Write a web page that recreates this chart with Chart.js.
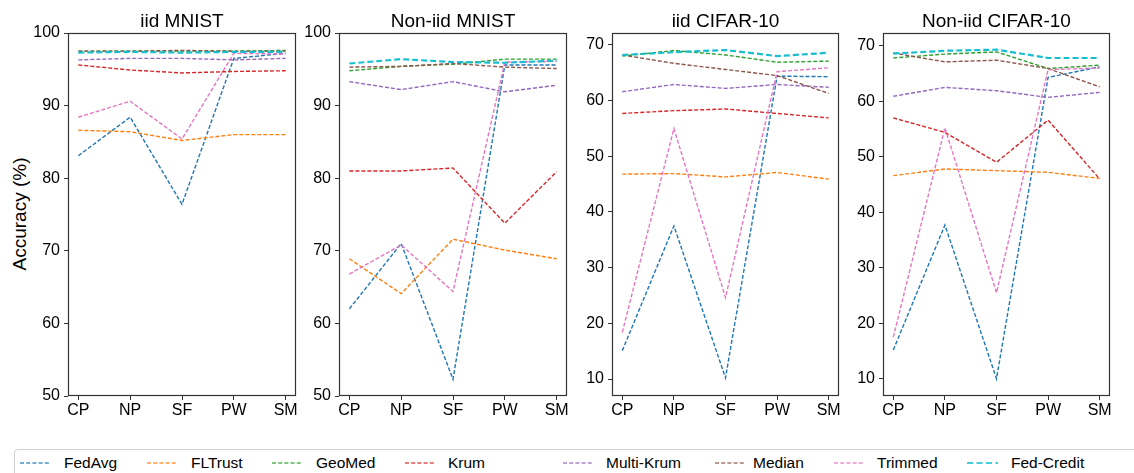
<!DOCTYPE html>
<html><head><meta charset="utf-8">
<script src="https://cdn.jsdelivr.net/npm/chart.js@4/dist/chart.umd.min.js"></script>
<style>
body{margin:0;background:#fff;width:1134px;height:473px;overflow:hidden;position:relative;font-family:"Liberation Sans",Arial,sans-serif;color:#000}
canvas{position:absolute;top:0}
.title{position:absolute;top:10px;font-size:19px;transform:translateX(-50%);white-space:nowrap}
.ylab{position:absolute;left:20px;top:214px;font-size:19px;white-space:nowrap;transform:translate(-50%,-50%) rotate(-90deg)}
.legend{position:absolute;left:14px;top:449px;width:1140px;height:40px;border:1px solid #d0d0d0;border-radius:4px;box-sizing:border-box}
.lg{position:absolute;font-size:15.5px;top:454px;line-height:18px;white-space:nowrap}
.ll{position:absolute;top:461px}
</style>
</head><body>
<div class="ylab">Accuracy (%)</div>
<div class="legend"></div>
<script>
const categories = ['CP','NP','SF','PW','SM'];
const methods = ['FedAvg','FLTrust','GeoMed','Krum','Multi-Krum','Median','Trimmed','Fed-Credit'];
const colors = ['#1f77b4','#ff7f0e','#2ca02c','#d62728','#9467bd','#8c564b','#e377c2','#17becf'];

// values per panel, rows in methods order, columns in categories order
const iidMNIST = [
  [83.1, 88.4, 76.4, 96.5, 97.2],
  [86.6, 86.4, 85.2, 86.0, 86.0],
  [97.5, 97.5, 97.5, 97.5, 97.6],
  [95.6, 94.9, 94.5, 94.7, 94.8],
  [96.3, 96.5, 96.5, 96.3, 96.5],
  [97.5, 97.5, 97.6, 97.5, 97.5],
  [88.4, 90.6, 85.4, 97.2, 97.1],
  [97.3, 97.4, 97.3, 97.4, 97.4]
];
const nonIidMNIST = [
  [62.0, 71.0, 52.3, 95.6, 95.6],
  [68.9, 64.1, 71.6, 70.1, 68.9],
  [94.8, 95.4, 95.7, 96.4, 96.4],
  [81.0, 81.0, 81.4, 73.8, 80.9],
  [93.3, 92.2, 93.3, 91.9, 92.8],
  [95.3, 95.4, 95.8, 95.3, 95.1],
  [66.8, 70.8, 64.4, 96.0, 96.1],
  [95.8, 96.4, 96.0, 95.9, 96.2]
];
const iidCIFAR = [
  [15.1, 37.5, 10.2, 64.4, 64.3],
  [46.8, 46.9, 46.3, 47.1, 45.9],
  [68.0, 69.0, 68.2, 66.9, 67.1],
  [57.7, 58.2, 58.5, 57.7, 56.9],
  [61.6, 62.9, 62.2, 62.9, 62.4],
  [68.2, 66.7, 65.6, 64.5, 61.3],
  [18.4, 55.0, 24.6, 65.2, 65.9],
  [68.2, 68.7, 69.1, 68.0, 68.6]
];
const nonIidCIFAR = [
  [15.2, 37.7, 10.0, 64.3, 66.2],
  [46.6, 47.8, 47.5, 47.2, 46.1],
  [67.8, 68.5, 68.9, 65.9, 66.5],
  [57.0, 54.4, 49.0, 56.6, 46.0],
  [60.9, 62.5, 61.9, 60.7, 61.6],
  [68.7, 67.1, 67.4, 65.9, 62.6],
  [17.5, 55.2, 25.5, 65.7, 66.0],
  [68.6, 69.1, 69.3, 67.8, 67.8]
];
const panelTitles = ['iid MNIST','Non-iid MNIST','iid CIFAR-10','Non-iid CIFAR-10'];
const panelData = [iidMNIST, nonIidMNIST, iidCIFAR, nonIidCIFAR];
const mnistTicks = [50, 60, 70, 80, 90, 100];
const cifarTicks = [10, 20, 30, 40, 50, 60, 70];

const FONT = '"Liberation Sans", Arial, sans-serif';
const layouts = [
  {left:68, right:296, yMin:50, yMax:100, ticks:mnistTicks},
  {left:339, right:567, yMin:50, yMax:100, ticks:mnistTicks},
  {left:612, right:839, yMin:6.95, yMax:72.15, ticks:cifarTicks},
  {left:883, right:1110, yMin:6.9, yMax:72.3, ticks:cifarTicks}
];
const YW = 68, PADR = 20, TOP = 33, H = 420, XH = 24;

const frame = {
  id:'frame',
  afterDatasetsDraw(chart){
    const a = chart.chartArea, c = chart.ctx;
    c.save();
    c.strokeStyle = '#333';
    c.lineWidth = 1.2;
    c.strokeRect(Math.round(a.left)+0.5, Math.round(a.top)+0.5, Math.round(a.right-a.left)-1, Math.round(a.bottom-a.top)-1);
    c.restore();
  }
};

panelData.forEach((vals, p) => {
  const L = layouts[p];
  const w = YW + (L.right - L.left) + PADR;
  const cv = document.createElement('canvas');
  cv.width = w; cv.height = H;
  cv.style.left = (L.left - YW) + 'px';
  cv.style.width = w + 'px'; cv.style.height = H + 'px';
  document.body.appendChild(cv);

  const t = document.createElement('div');
  t.className = 'title';
  t.textContent = panelTitles[p];
  t.style.left = ((L.left + L.right) / 2) + 'px';
  document.body.appendChild(t);

  new Chart(cv.getContext('2d'), {
    type:'line',
    data:{
      datasets: methods.map((m, i) => ({
        label:m,
        data: vals[i].map((v, j) => ({x:j, y:v})),
        borderColor: colors[i],
        borderWidth: i === 7 ? 2.2 : 1.4,
        borderDash: i === 7 ? [6, 3] : [4, 2],
        pointRadius:0,
        fill:false,
        tension:0,
        order: methods.length - i
      }))
    },
    options:{
      responsive:false,
      animation:false,
      devicePixelRatio:1,
      layout:{padding:{left:0, right:PADR, top:TOP, bottom:0}},
      plugins:{legend:{display:false}, tooltip:{enabled:false}},
      scales:{
        x:{
          type:'linear', min:-0.2, max:4.2,
          afterBuildTicks: s => { s.ticks = categories.map((c, j) => ({value:j})); },
          ticks:{callback: v => categories[v] ?? '', font:{size:16, family:FONT}, color:'#000', padding:1, autoSkip:false, maxRotation:0},
          grid:{display:true, drawOnChartArea:false, drawTicks:true, tickLength:4, color:'#333'},
          border:{display:false},
          afterFit: s => { s.height = XH; s.paddingLeft = 0; s.paddingRight = 0; }
        },
        y:{
          type:'linear', min:L.yMin, max:L.yMax,
          afterBuildTicks: s => { s.ticks = L.ticks.map(v => ({value:v})); },
          ticks:{font:{size:16, family:FONT}, color:'#000', padding:4},
          grid:{display:true, drawOnChartArea:false, drawTicks:true, tickLength:4, color:'#333'},
          border:{display:false},
          afterFit: s => { s.width = YW; s.paddingTop = 0; s.paddingBottom = 0; }
        }
      }
    },
    plugins:[frame]
  });
});

// legend
const lineX = [20, 147, 272, 405, 563, 715, 834, 967];
const textX = [64, 191, 316, 448, 606, 753, 877, 1011];
methods.forEach((m, i) => {
  const s = document.createElementNS('http://www.w3.org/2000/svg', 'svg');
  s.setAttribute('class', 'll');
  s.setAttribute('width', '32'); s.setAttribute('height', '4');
  s.style.left = lineX[i] + 'px';
  const ln = document.createElementNS('http://www.w3.org/2000/svg', 'line');
  ln.setAttribute('x1', '0'); ln.setAttribute('y1', '2'); ln.setAttribute('x2', '31'); ln.setAttribute('y2', '2');
  ln.setAttribute('stroke', colors[i]);
  ln.setAttribute('stroke-opacity', '0.8');
  ln.setAttribute('stroke-width', i === 7 ? '2.2' : '1.5');
  ln.setAttribute('stroke-dasharray', i === 7 ? '6,3.5' : '4,2.2');
  s.appendChild(ln);
  document.body.appendChild(s);
  const d = document.createElement('div');
  d.className = 'lg';
  d.style.left = textX[i] + 'px';
  d.textContent = m;
  document.body.appendChild(d);
});
</script>
</body></html>
